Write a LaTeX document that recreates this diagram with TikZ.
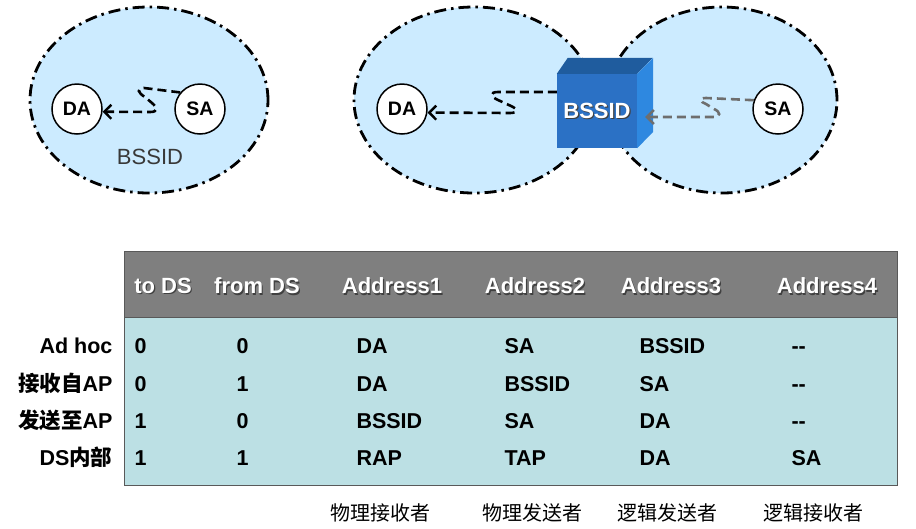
\documentclass[tikz,border=0pt]{standalone}
\usepackage{fontspec}
\setmainfont{Liberation Sans}
\newfontfamily\cjk{Noto Sans CJK SC}
\usetikzlibrary{arrows.meta}

\definecolor{zonefill}{HTML}{CCEBFF}
\definecolor{headgray}{HTML}{7F7F7F}
\definecolor{bodyteal}{HTML}{BCE0E4}
\definecolor{cubefront}{HTML}{2B71C5}
\definecolor{cubetop}{HTML}{1F5C9E}
\definecolor{cubeside}{HTML}{2E88E0}
\definecolor{msggray}{HTML}{6E6E6E}

\tikzset{
    zone/.style={line width=2.8pt, dash pattern=on 12pt off 5pt on 2.5pt off 5pt},
    station/.style={circle, draw, line width=1.5pt, fill=white, minimum size=50pt,
        inner sep=0pt, font=\fontsize{19.5}{22}\selectfont\bfseries},
    msg/.style={draw, line width=2.6pt, dash pattern=on 9pt off 5pt,
        -{Straight Barb[length=7pt,width=14pt,line width=2.4pt]}},
    cube/.style={fill=cubefront, minimum width=80pt, minimum height=74pt, inner sep=0pt},
    cubetxt/.style={text=white, font=\fontsize{22}{24}\selectfont\bfseries},
    shade/.style={text=black!75, font=\fontsize{22}{24}\selectfont\bfseries},
    hdr/.style={text=white, font=\fontsize{22}{24}\selectfont\bfseries},
    cell/.style={anchor=base west, font=\fontsize{21.5}{24}\selectfont\bfseries},
    rowlabel/.style={anchor=base east, font=\fontsize{21.5}{24}\selectfont\bfseries},
    role/.style={font=\fontsize{20}{22}\selectfont\cjk},
}

\begin{document}
\begin{tikzpicture}[x=1pt, y=-1pt]
    \useasboundingbox (0,0) rectangle (916,528);

    % the three cells
    \fill[zonefill] (149,100) ellipse [x radius=119pt, y radius=93pt];
    \fill[zonefill] (474,100) ellipse [x radius=120pt, y radius=93pt];
    \fill[zonefill] (722,100) ellipse [x radius=115pt, y radius=93pt];
    \draw[zone] (149,100) ellipse [x radius=119pt, y radius=93pt];
    \draw[zone] (474,100) ellipse [x radius=120pt, y radius=93pt];
    \draw[zone] (722,100) ellipse [x radius=115pt, y radius=93pt];

    % ad hoc
    \node[station] (da1) at (77,109) {DA};
    \node[station] (sa1) at (200,109) {SA};
    \node[text=black!78, font=\fontsize{22}{24}\selectfont] (bss1) at (150,157) {BSSID};
    \draw[msg] (sa1.140) -- (144,88) .. controls (136,88) and (138,93) .. (145,97)
        -- (152,103) .. controls (158,108) and (158,112) .. (150,112) -- (da1.-6);

    % via the access point
    \node[cube] (bx) at (597,111) {};
    \fill[cubetop] (bx.north west) -- ++(11,-16) -- ++(85,0) -- (bx.north east) -- cycle;
    \fill[cubeside] (bx.north east) -- ++(16,-16) -- ++(0,74) -- (bx.south east) -- cycle;
    \node[shade] (bxs) at ([xshift=1.2pt,yshift=-1.2pt]bx.center) {BSSID};
    \node[cubetxt] (bxt) at (bx.center) {BSSID};

    \node[station] (da2) at (402,109) {DA};
    \node[station] (sa2) at (778,109) {SA};
    \draw[msg] ([yshift=19pt]bx.west) -- (498,92) .. controls (489,92) and (491,97) .. (498,100)
        -- (511,106) .. controls (518,109) and (518,113) .. (510,113) -- (da2.-8);
    \draw[msg, msggray] (sa2.160) -- (706,98) .. controls (698,98) and (700,102) .. (706,104)
        -- (714,109) .. controls (721,112) and (721,117) .. (713,117)
        -- ([xshift=8pt,yshift=-6pt]bx.east);

    % address table
    \draw[black!65, fill=bodyteal] (124,317) rectangle (897,485);
    \draw[black!65, fill=headgray] (124,251) rectangle (897,317);

    \foreach \x/\t/\n in {163/to DS/h1, 257/from DS/h2, 392/Address1/h3,
                          535/Address2/h4, 671/Address3/h5, 827/Address4/h6} {
        \node[shade] (\n s) at (\x+1.2,287.2) {\t};
        \node[hdr] (\n) at (\x,286) {\t};
    }

    \node[rowlabel] (r1) at (116,353) {Ad hoc};
    \node[rowlabel] (r2) at (116,391) {{\cjk 接收自}AP};
    \node[rowlabel] (r3) at (116,428) {{\cjk 发送至}AP};
    \node[rowlabel] (r4) at (116,465) {DS{\cjk 内部}};

    \foreach \y/\a/\b/\c/\d/\e/\f/\r in {353/0/0/DA/SA/BSSID/{-}{-}/1,
                                         391/0/1/DA/BSSID/SA/{-}{-}/2,
                                         428/1/0/BSSID/SA/DA/{-}{-}/3,
                                         465/1/1/RAP/TAP/DA/SA/4} {
        \node[cell] (c\r a) at (131,\y) {\a};
        \node[cell] (c\r b) at (233,\y) {\b};
        \node[cell] (c\r c) at (353,\y) {\c};
        \node[cell] (c\r d) at (501,\y) {\d};
        \node[cell] (c\r e) at (636,\y) {\e};
        \node[cell] (c\r f) at (788,\y) {\f};
    }

    \node[role] (p1) at (380,513) {物理接收者};
    \node[role] (p2) at (532,513) {物理发送者};
    \node[role] (p3) at (667,513) {逻辑发送者};
    \node[role] (p4) at (813,513) {逻辑接收者};
\end{tikzpicture}
\end{document}
